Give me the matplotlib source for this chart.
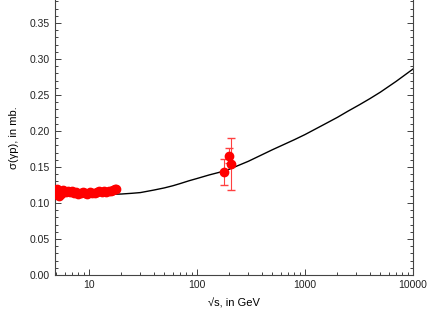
import matplotlib
matplotlib.use("Agg")
import matplotlib.pyplot as plt
import numpy as np

plt.rcParams['font.family'] = ['Liberation Sans', 'DejaVu Sans']

# low energy photoproduction data (sqrt s in GeV, sigma in mb)
lowE = [4.9, 5.0, 5.1, 5.2, 5.3, 5.4, 5.5, 5.7, 5.9, 6.1, 6.4, 6.7, 7.0, 7.3,
        7.6, 8.0, 8.4, 8.8, 9.2, 9.7, 10.2, 10.7, 11.3, 11.9, 12.5, 13.1, 13.8,
        14.5, 15.2, 16.0, 16.7, 17.3, 17.8]
lowSig = [0.118, 0.112, 0.120, 0.115, 0.110, 0.117, 0.113, 0.118, 0.116, 0.115,
          0.117, 0.115, 0.116, 0.114, 0.115, 0.113, 0.114, 0.115, 0.114, 0.113,
          0.115, 0.114, 0.114, 0.115, 0.116, 0.115, 0.116, 0.115, 0.117, 0.116,
          0.118, 0.119, 0.119]
lowErr = [0.003] * len(lowE)

# HERA points
highE = [178, 199, 209]
highSig = [0.143, 0.166, 0.154]
highErr = [0.018, 0.010, 0.036]

# fitted curve
fitE = [4.85, 6, 7, 8.5, 10, 12, 15, 20, 25, 30, 40, 50, 60, 70, 85, 100,
        130, 160, 200, 300, 400, 500, 650, 800, 1000, 1500, 2000, 2500, 3200,
        4000, 5000, 7000, 10000]
fitSig = [0.115, 0.114, 0.1135, 0.113, 0.1125, 0.1122, 0.112, 0.1125, 0.1135,
          0.1145, 0.118, 0.121, 0.124, 0.127, 0.131, 0.134, 0.139, 0.1425,
          0.147, 0.158, 0.167, 0.174, 0.1818, 0.188, 0.195, 0.209, 0.219, 0.2275,
          0.2365, 0.245, 0.254, 0.269, 0.286]

fig = plt.figure(figsize=(4.36, 3.27), dpi=100)
ax = fig.add_axes([0.126, 0.159, 0.821, 0.841])

ax.plot(fitE, fitSig, color='black', lw=1.0, zorder=2)
ax.errorbar(lowE, lowSig, yerr=lowErr, fmt='o', color='red', ms=6,
            elinewidth=0.8, capsize=2, zorder=3, clip_on=True)
ax.errorbar(highE, highSig, yerr=highErr, fmt='o', color='red', ms=6,
            elinewidth=0.8, capsize=3, ecolor='#ff4040', zorder=3)

ax.set_xscale('log')
ax.set_xlim(4.85, 10000)
ax.set_ylim(0, 0.382)
ax.set_yticks(np.arange(0, 0.36, 0.05))
ax.yaxis.set_minor_locator(matplotlib.ticker.MultipleLocator(0.01))
ax.xaxis.set_major_formatter(matplotlib.ticker.FuncFormatter(lambda v, p: '%d' % v))

for s in ax.spines.values():
    s.set_color('#444444')
    s.set_linewidth(0.8)
ax.spines['top'].set_visible(False)
ax.tick_params(which='both', direction='in', right=True, top=False,
               labelsize=7.5, colors='#222222', width=0.6)
ax.tick_params(which='major', length=4)
ax.tick_params(which='minor', length=2.5)
ax.set_yticklabels(['%.2f' % v for v in np.arange(0, 0.36, 0.05)])

ax.set_xlabel('\u221as, in GeV', fontsize=8, labelpad=6)
ax.set_ylabel('\u03c3(\u03b3p), in mb.', fontsize=8, labelpad=8)

fig.savefig('out.png', dpi=100)
